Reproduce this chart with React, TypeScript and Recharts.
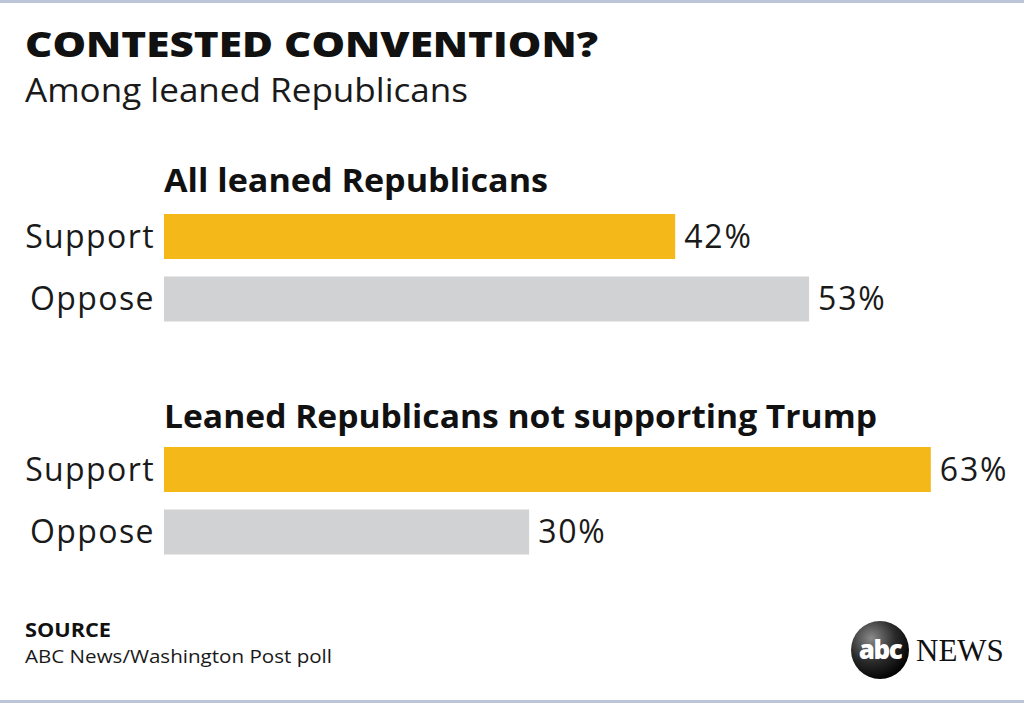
import React from 'react';
import { BarChart, Bar, XAxis, YAxis, Cell, LabelList } from 'recharts';

const answers = ['Support', 'Oppose'];
const allLeaned = [42, 53];
const notTrump = [63, 30];
const groupTitles = ['All leaned Republicans', 'Leaned Republicans not supporting Trump'];
const barColors = ['#F5B819', '#D1D2D4'];

const FONT = '"Open Sans", Lato, sans-serif';

const toRows = (values: number[]) => answers.map((a, i) => ({ answer: a, value: values[i] }));

const GroupChart: React.FC<{ values: number[]; top: number }> = ({ values, top }) => (
  <div style={{ position: 'absolute', left: 0, top }}>
    <BarChart
      width={1024}
      height={125}
      layout="vertical"
      data={toRows(values)}
      margin={{ top: 0, right: 8, bottom: 0, left: 0 }}
      barCategoryGap={0}
    >
      <XAxis type="number" domain={[0, 70]} hide />
      <YAxis
        type="category"
        dataKey="answer"
        width={164}
        axisLine={false}
        tickLine={false}
        tickSize={0}
        tickMargin={9}
        tick={{ fill: '#1a1a1a', fontSize: 32, fontFamily: FONT, letterSpacing: 1.4 }}
      />
      <Bar dataKey="value" barSize={45} isAnimationActive={false}>
        {values.map((_, i) => (
          <Cell key={i} fill={barColors[i]} />
        ))}
        <LabelList
          dataKey="value"
          position="right"
          offset={9}
          formatter={(v: number) => `${v}%`}
          style={{ fill: '#1a1a1a', fontSize: 32, fontFamily: FONT, letterSpacing: 1.8 }}
        />
      </Bar>
    </BarChart>
  </div>
);

const App: React.FC = () => (
  <div style={{ position: 'absolute', left: 0, top: 0, width: 1024, height: 703, background: '#fff', overflow: 'hidden' }}>
    <svg width={1024} height={703} style={{ position: 'absolute', left: 0, top: 0 }}>
      <defs>
        <radialGradient id="abcBall" cx="35%" cy="30%" r="75%">
          <stop offset="0%" stopColor="#8a8a8a" />
          <stop offset="55%" stopColor="#2a2a2a" />
          <stop offset="100%" stopColor="#000" />
        </radialGradient>
      </defs>
      <rect x={0} y={0} width={1024} height={3} fill="#BCC6D8" />
      <rect x={0} y={700} width={1024} height={3} fill="#BCC6D8" />
      <text x={25} y={57} fontFamily={FONT} fontWeight={800} fontSize={35} fill="#111" textLength={573} lengthAdjust="spacingAndGlyphs">
        CONTESTED CONVENTION?
      </text>
      <text x={25} y={102} fontFamily={FONT} fontSize={33} fill="#1a1a1a" textLength={443} lengthAdjust="spacingAndGlyphs">
        Among leaned Republicans
      </text>
      <text x={164} y={192} fontFamily={FONT} fontWeight={700} fontSize={32} fill="#111" textLength={384} lengthAdjust="spacingAndGlyphs">
        {groupTitles[0]}
      </text>
      <text x={164} y={428} fontFamily={FONT} fontWeight={700} fontSize={32} fill="#111" textLength={713} lengthAdjust="spacingAndGlyphs">
        {groupTitles[1]}
      </text>
      <text x={25} y={637} fontFamily={FONT} fontWeight={700} fontSize={19} fill="#111" textLength={86} lengthAdjust="spacingAndGlyphs">
        SOURCE
      </text>
      <text x={25} y={663} fontFamily={FONT} fontSize={18.5} fill="#1a1a1a" textLength={307} lengthAdjust="spacingAndGlyphs">
        ABC News/Washington Post poll
      </text>
      <circle cx={880} cy={650} r={29} fill="url(#abcBall)" />
      <text x={880} y={659} textAnchor="middle" fontFamily={FONT} fontWeight={800} fontSize={26} fill="#fff" letterSpacing={-1.5}>
        abc
      </text>
      <text x={916} y={661} fontFamily='"Liberation Serif", "DejaVu Serif", serif' fontSize={31} fill="#111">
        NEWS
      </text>
    </svg>
    <GroupChart values={allLeaned} top={205} />
    <GroupChart values={notTrump} top={438} />
  </div>
);

export default App;
